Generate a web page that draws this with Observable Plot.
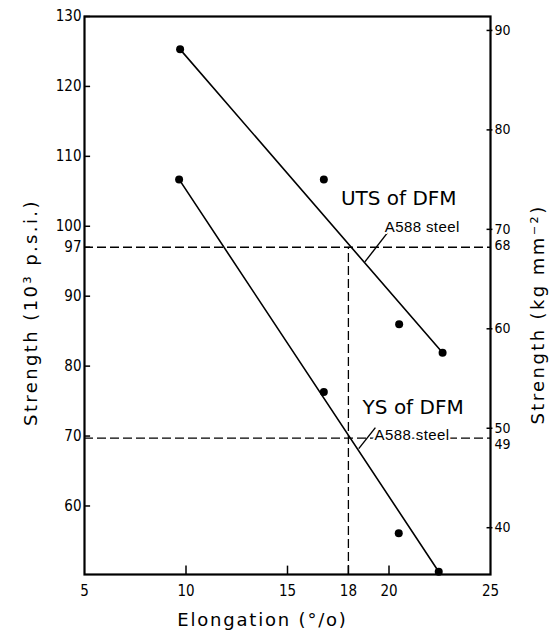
<!DOCTYPE html>
<html>
<head>
<meta charset="utf-8">
<script src="https://cdn.jsdelivr.net/npm/d3@7"></script>
<script src="https://cdn.jsdelivr.net/npm/@observablehq/plot@0.6"></script>
<style>
  html, body { margin: 0; padding: 0; background: #fff; }
  #chart svg { display: block; }
</style>
</head>
<body>
<div id="chart"></div>
<script>
// ---- data ----
const KG = 1.4223; // 1 kg/mm² in 10³ p.s.i.
const elongTicks = [5, 10, 15, 18, 20, 25];
const psiTicks = [130, 120, 110, 100, 97, 90, 80, 70, 60];
const kgTicks = [90, 80, 70, 60, 50, 40];
const kgRefTicks = [68, 49];

const utsElong = [9.71, 16.79, 20.5, 22.64];
const utsPsi = [125.3, 106.7, 86.0, 81.9];
const ysElong = [9.66, 16.79, 20.48, 22.45];
const ysPsi = [106.7, 76.3, 56.1, 50.6];

const utsFitElong = [9.71, 22.64];
const utsFitPsi = [125.3, 81.9];
const ysFitElong = [9.66, 22.45];
const ysFitPsi = [106.7, 50.6];

const refPsi = [97, 69.7];   // A588 steel UTS and YS
const refElong = [18];       // A588 steel elongation

const titleLeft = "Strength (10³ p.s.i.)";
const titleRight = "Strength (kg mm⁻²)";
const titleBottom = "Elongation (°/o)";

const yMin = 50.2, yMax = 130, xMin = 5, xMax = 25;

const uts = utsElong.map((x, i) => ({x, y: utsPsi[i]}));
const ys = ysElong.map((x, i) => ({x, y: ysPsi[i]}));
const utsFit = utsFitElong.map((x, i) => ({x, y: utsFitPsi[i]}));
const ysFit = ysFitElong.map((x, i) => ({x, y: ysFitPsi[i]}));

const labels = [
  {x: 17.63, y: 103.0, text: "UTS of DFM", big: true},
  {x: 19.79, y: 99.14, text: "A588 steel", big: false},
  {x: 18.70, y: 73.14, text: "YS of DFM", big: true},
  {x: 19.29, y: 69.5, text: "A588 steel", big: false}
];
const leaders = [
  {x1: 19.93, y1: 99.1, x2: 18.81, y2: 94.9},
  {x1: 19.33, y1: 71.2, x2: 18.51, y2: 68.2}
];

const tickFont = "'Liberation Sans Narrow', 'DejaVu Sans Condensed', 'Liberation Sans', sans-serif";
const titleFont = "'DejaVu Sans', sans-serif";

const chart = Plot.plot({
  width: 551,
  height: 637,
  marginLeft: 84,
  marginRight: 61,
  marginTop: 16,
  marginBottom: 63,
  style: {background: "#fff", color: "#000", fontFamily: tickFont},
  x: {domain: [xMin, xMax]},
  y: {domain: [yMin, yMax]},
  marks: [
    // reference dashed lines
    Plot.ruleY(refPsi, {x1: xMin, x2: xMax, stroke: "#000", strokeWidth: 1.3, strokeDasharray: "9,4"}),
    Plot.ruleX(refElong, {y1: yMin, y2: refPsi[0], stroke: "#000", strokeWidth: 1.3, strokeDasharray: "9,4"}),
    // fitted lines
    Plot.line(utsFit, {x: "x", y: "y", stroke: "#000", strokeWidth: 1.6}),
    Plot.line(ysFit, {x: "x", y: "y", stroke: "#000", strokeWidth: 1.6}),
    // data points
    Plot.dot(uts, {x: "x", y: "y", r: 4, fill: "#000"}),
    Plot.dot(ys, {x: "x", y: "y", r: 4, fill: "#000"}),
    // leaders
    Plot.link(leaders, {x1: "x1", y1: "y1", x2: "x2", y2: "y2", stroke: "#000", strokeWidth: 1.4}),
    // annotation labels
    Plot.text(labels.filter(d => d.big), {x: "x", y: "y", text: "text", textAnchor: "start", lineAnchor: "bottom",
      fontSize: 20, fontFamily: titleFont, fill: "#000"}),
    Plot.text(labels.filter(d => !d.big), {x: "x", y: "y", text: "text", textAnchor: "start", lineAnchor: "bottom",
      fontSize: 15, fontFamily: "'Liberation Sans', sans-serif", fill: "#000", stroke: "#fff", strokeWidth: 4}),
    // tick marks (inward)
    Plot.ruleY(psiTicks, {x1: xMin, x2: xMin + 0.3, stroke: "#000", strokeWidth: 1.5}),
    Plot.ruleY(kgTicks.map(k => k * KG), {x1: xMax - 0.17, x2: xMax + 0.12, stroke: "#000", strokeWidth: 1.5}),
    Plot.ruleX(elongTicks.filter(d => d > xMin && d < xMax), {y1: yMin, y2: yMin + 1.2, stroke: "#000", strokeWidth: 1.5}),
    // axes
    Plot.axisX({ticks: elongTicks, tickSize: 0, tickPadding: 11, fontSize: 15, label: null}),
    Plot.axisY({anchor: "left", ticks: psiTicks, tickSize: 0, tickPadding: 3, fontSize: 15, label: null}),
    Plot.axisY({anchor: "right", ticks: kgTicks.map(k => k * KG), tickFormat: d => String(Math.round(d / KG)),
      tickSize: 0, tickPadding: 4, fontSize: 14, label: null}),
    Plot.axisY({anchor: "right", ticks: [kgRefTicks[0] * KG], tickFormat: d => String(Math.round(d / KG)),
      tickSize: 0, tickPadding: 4, fontSize: 14, dy: -4, label: null}),
    Plot.axisY({anchor: "right", ticks: [kgRefTicks[1] * KG], tickFormat: d => String(Math.round(d / KG)),
      tickSize: 0, tickPadding: 4, fontSize: 14, dy: 6, label: null}),
    Plot.frame({stroke: "#000", strokeWidth: 2.2}),
    // axis titles
    Plot.text([titleLeft], {frameAnchor: "left", textAnchor: "middle", dx: -53, dy: 17, rotate: -90,
      fontSize: 18, fontFamily: titleFont, fill: "#000"}),
    Plot.text([titleRight], {frameAnchor: "right", textAnchor: "middle", dx: 48, dy: 19, rotate: -90,
      fontSize: 18, fontFamily: titleFont, fill: "#000"}),
    Plot.text([titleBottom], {frameAnchor: "bottom", textAnchor: "middle", dx: -25, dy: 51,
      fontSize: 18, fontFamily: titleFont, fill: "#000"})
  ]
});
document.getElementById("chart").appendChild(chart);

// letter spacing to mimic the wide lettering of the original
d3.select(chart).selectAll("text")
  .filter(function () { return [titleLeft, titleRight].includes(this.textContent); })
  .attr("letter-spacing", 2.4);
d3.select(chart).selectAll("text")
  .filter(function () { return this.textContent === titleBottom; })
  .attr("letter-spacing", 1.8);
d3.select(chart).selectAll("text")
  .filter(function () { return this.textContent === "A588 steel"; })
  .attr("letter-spacing", 0.4);
</script>
</body>
</html>
